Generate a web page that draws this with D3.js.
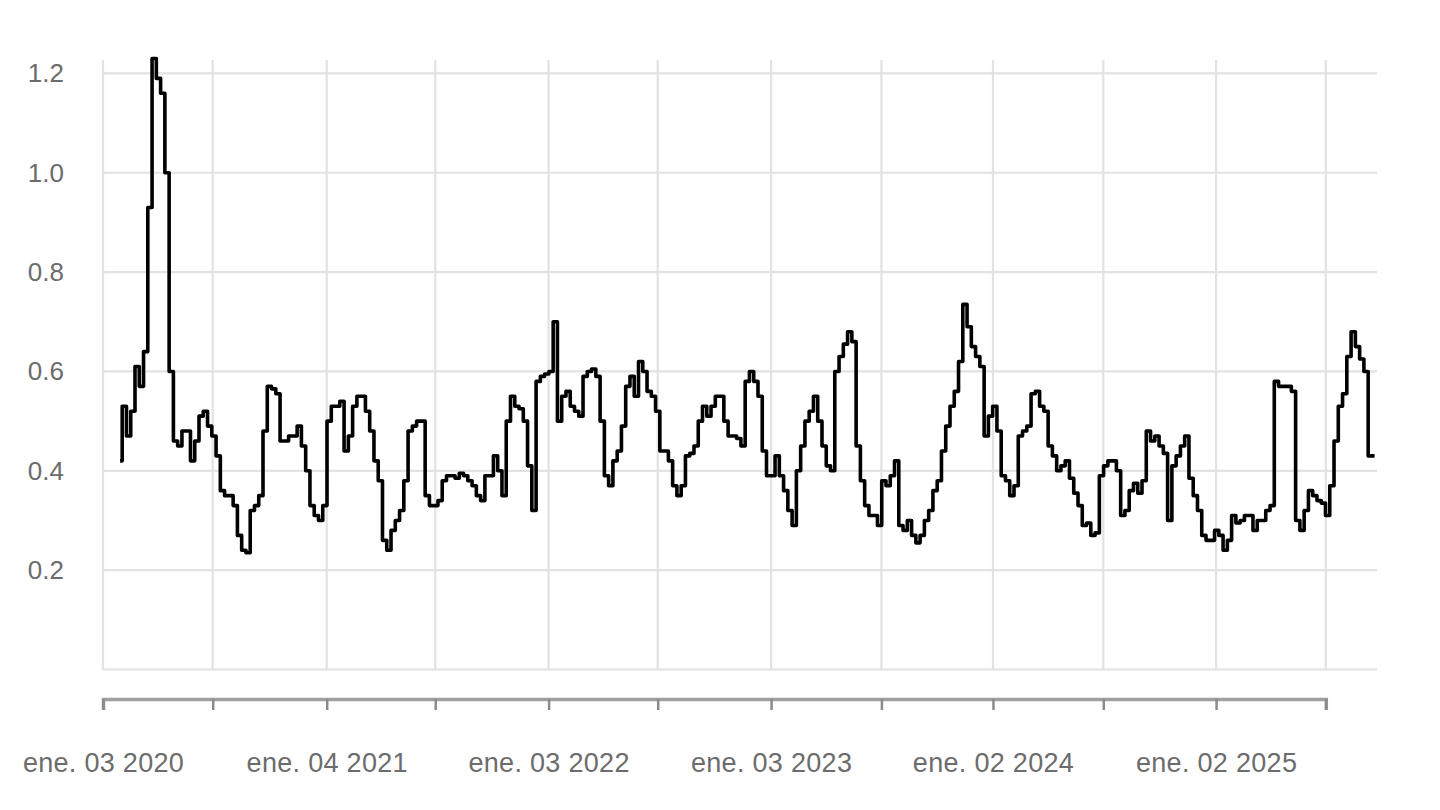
<!DOCTYPE html>
<html>
<head>
<meta charset="utf-8">
<script src="https://cdn.jsdelivr.net/npm/d3@7"></script>
<style>
  html, body { margin: 0; padding: 0; background: #ffffff; }
  svg { display: block; }
</style>
</head>
<body>
<svg id="chart" width="1440" height="810"></svg>
<script>
const startDate = "2020-01-31";
const values = [
  0.42,0.53,0.47,0.52,0.61,0.57,0.64,0.93,1.23,1.19,1.16,1.00,0.60,0.46,0.45,0.48,0.48,0.42,0.46,0.51,
  0.52,0.49,0.47,0.43,0.36,0.35,0.35,0.33,0.27,0.24,0.235,0.32,0.33,0.35,0.48,0.57,0.565,0.555,0.46,0.46,
  0.47,0.47,0.49,0.45,0.40,0.33,0.31,0.30,0.33,0.50,0.53,0.53,0.54,0.44,0.47,0.53,0.55,0.55,0.52,0.48,
  0.42,0.38,0.26,0.24,0.28,0.30,0.32,0.38,0.48,0.49,0.50,0.50,0.35,0.33,0.33,0.34,0.38,0.39,0.39,0.385,
  0.395,0.39,0.38,0.37,0.35,0.34,0.39,0.39,0.43,0.40,0.35,0.50,0.55,0.53,0.525,0.50,0.41,0.32,0.58,0.59,
  0.595,0.60,0.70,0.50,0.55,0.56,0.53,0.52,0.51,0.59,0.60,0.605,0.59,0.50,0.39,0.37,0.42,0.44,0.49,0.57,
  0.59,0.55,0.62,0.60,0.56,0.55,0.52,0.44,0.44,0.42,0.37,0.35,0.37,0.43,0.435,0.45,0.50,0.53,0.51,0.53,
  0.55,0.55,0.50,0.47,0.47,0.465,0.45,0.58,0.60,0.58,0.55,0.44,0.39,0.39,0.43,0.39,0.36,0.32,0.29,0.40,
  0.45,0.50,0.52,0.55,0.50,0.45,0.41,0.40,0.60,0.63,0.655,0.68,0.66,0.45,0.38,0.33,0.31,0.31,0.29,0.38,
  0.37,0.39,0.42,0.29,0.28,0.30,0.27,0.255,0.27,0.30,0.32,0.36,0.38,0.44,0.49,0.53,0.56,0.62,0.735,0.69,
  0.65,0.63,0.61,0.47,0.51,0.53,0.48,0.39,0.38,0.35,0.37,0.47,0.48,0.49,0.555,0.56,0.53,0.52,0.45,0.43,
  0.40,0.41,0.42,0.385,0.355,0.33,0.29,0.295,0.27,0.275,0.39,0.41,0.42,0.42,0.40,0.31,0.32,0.36,0.375,0.355,
  0.38,0.48,0.46,0.47,0.45,0.435,0.30,0.41,0.43,0.45,0.47,0.385,0.35,0.32,0.27,0.26,0.26,0.28,0.27,0.24,
  0.26,0.31,0.295,0.30,0.31,0.31,0.28,0.30,0.30,0.32,0.33,0.58,0.57,0.57,0.57,0.56,0.30,0.28,0.32,0.36,
  0.35,0.34,0.335,0.31,0.37,0.46,0.53,0.555,0.63,0.68,0.65,0.625,0.60,0.43,0.43
];
const tickDates = ["2020-01-03","2020-07-01","2021-01-04","2021-07-01","2022-01-03","2022-07-01",
                   "2023-01-03","2023-07-03","2024-01-02","2024-07-01","2025-01-02","2025-07-01"];
const tickLabels = ["ene. 03 2020","","ene. 04 2021","","ene. 03 2022","",
                    "ene. 03 2023","","ene. 02 2024","","ene. 02 2025",""];
const yTicks = [0.2, 0.4, 0.6, 0.8, 1.0, 1.2];
const yGrid = [0, 0.2, 0.4, 0.6, 0.8, 1.0, 1.2];
const xDomain = ["2020-01-03", "2025-09-23"];
const yDomain = [0, 1.227];

// ---- build ----
const parse = d3.timeParse("%Y-%m-%d");
const start = parse(startDate);
const data = values.map((v, i) => ({ date: d3.timeWeek.offset(start, i), value: v }));
const ticks = tickDates.map(parse);

const svg = d3.select("#chart");
const plotLeft = 103, plotRight = 1377, plotTop = 60, plotBottom = 669.5;

const x = d3.scaleTime().domain(xDomain.map(parse)).range([plotLeft, plotRight]);
const y = d3.scaleLinear().domain(yDomain).range([plotBottom, plotTop]);

// gridlines
const grid = svg.append("g").attr("stroke", "#e2e2e2").attr("stroke-width", 2.2);
grid.selectAll("line.v").data(ticks).join("line")
  .attr("class", "v")
  .attr("x1", d => x(d)).attr("x2", d => x(d))
  .attr("y1", plotTop).attr("y2", plotBottom);
grid.selectAll("line.h").data(yGrid).join("line")
  .attr("class", "h")
  .attr("x1", plotLeft).attr("x2", plotRight)
  .attr("y1", d => y(d)).attr("y2", d => y(d));

// y labels
const yAxis = d3.axisLeft(y).tickValues(yTicks).tickFormat(d3.format(".1f")).tickSize(0).tickPadding(0);
const gy = svg.append("g").attr("transform", "translate(64,0)").call(yAxis);
gy.select(".domain").remove();
gy.selectAll("text")
  .attr("font-family", "'Liberation Sans', Arial, sans-serif")
  .attr("font-size", 26)
  .attr("fill", "#6c6c6c");

// x axis (separate, below plot, ends at last tick)
const xAxisScale = x.copy().domain([ticks[0], ticks[ticks.length - 1]])
  .range([x(ticks[0]), x(ticks[ticks.length - 1])]);
const xAxis = d3.axisBottom(xAxisScale)
  .tickValues(ticks)
  .tickFormat((d, i) => tickLabels[i])
  .tickSize(11)
  .tickSizeOuter(11)
  .tickPadding(43);
const gx = svg.append("g").attr("transform", "translate(0,699)").call(xAxis);
gx.select(".domain").attr("stroke", "#a0a0a0").attr("stroke-width", 3.5).attr("fill", "none");
gx.selectAll(".tick line").attr("stroke", "#8a8a8a").attr("stroke-width", 2.5);
gx.selectAll("text")
  .attr("font-family", "'Liberation Sans', Arial, sans-serif")
  .attr("font-size", 27)
  .attr("letter-spacing", "0.3px")
  .attr("fill", "#6c6c6c");

// line
const line = d3.line()
  .x(d => x(d.date))
  .y(d => y(d.value))
  .curve(d3.curveStep);
svg.append("path")
  .datum(data)
  .attr("fill", "none")
  .attr("stroke", "#000")
  .attr("stroke-width", 3.6)
  .attr("stroke-linejoin", "round")
  .attr("d", line);
</script>
</body>
</html>
